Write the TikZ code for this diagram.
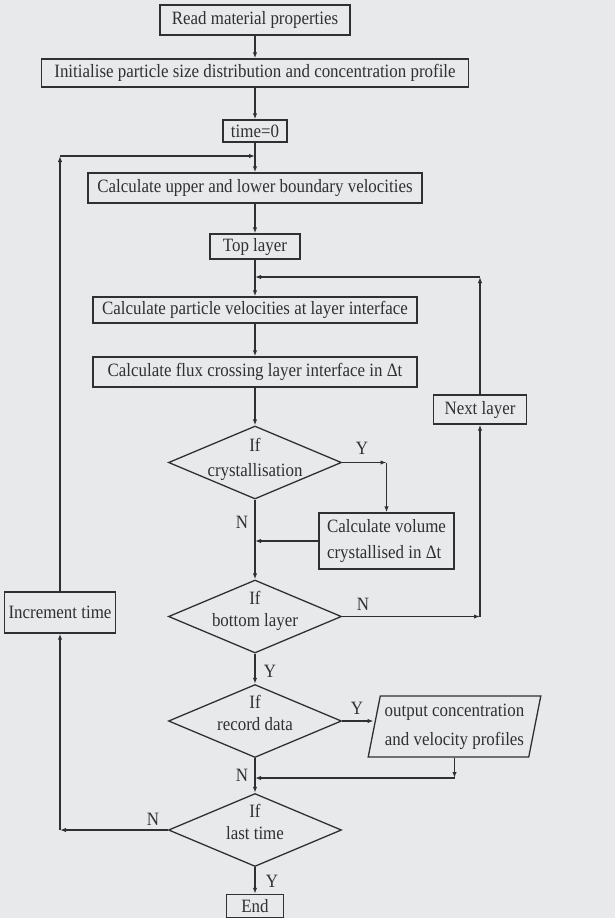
\documentclass[tikz,border=0pt]{standalone}
\usepackage{fontspec}
\setmainfont{Liberation Serif}[FakeStretch=0.9]
\usetikzlibrary{arrows.meta,shapes.geometric}
\definecolor{pagebg}{HTML}{E7E9EB}
\definecolor{inkcolor}{HTML}{303030}
\colorlet{linecolor}{inkcolor}

\begin{document}
\begin{tikzpicture}[x=0.5pt, y=-0.5pt,
        every node/.style={font=\fontsize{9.4}{11}\selectfont, text=inkcolor},
        procbox/.style={draw=linecolor, line width=0.65pt, rectangle, inner sep=0pt},
        testbox/.style={draw=linecolor, line width=0.65pt, diamond, aspect=2.4,
                inner xsep=-14pt, inner ysep=-12pt,
                minimum width=86.5pt, minimum height=36.5pt, align=center},
        iobox/.style={draw=linecolor, line width=0.65pt, trapezium, trapezium stretches=true,
                trapezium left angle=76, trapezium right angle=104, inner sep=0pt,
                minimum width=86.5pt, minimum height=30.5pt, align=center},
        flow/.style={draw=linecolor, line width=0.6pt, -{Latex[length=3pt,width=2.2pt]}},
        answer/.style={inner sep=0pt}]
        \fill[pagebg] (0,0) rectangle (615,918);
        \useasboundingbox (0,0) rectangle (615,918);

        \node (read) [procbox, minimum width=95pt, minimum height=15pt] at (255,20) {Read material properties};
        \node (init) [procbox, minimum width=213.5pt, minimum height=14pt] at (255,73)
                {Initialise particle size distribution and concentration profile};
        \node (tzero) [procbox, minimum width=32pt, minimum height=11pt] at (255,131) {time=0};
        \node (bounds) [procbox, minimum width=167pt, minimum height=15pt] at (255,188)
                {Calculate upper and lower boundary velocities};
        \node (toplay) [procbox, minimum width=45pt, minimum height=12.5pt] at (255,246.5) {Top layer};
        \node (veloc) [procbox, minimum width=162pt, minimum height=13pt] at (255,310)
                {Calculate particle velocities at layer interface};
        \node (flux) [procbox, minimum width=162pt, minimum height=15pt] at (255,372)
                {Calculate flux crossing layer interface in Δt};
        \node (nextlay) [procbox, minimum width=46.5pt, minimum height=14.5pt] at (480,409.5) {Next layer};
        \node (cryst) [testbox] at (255,462.5) {If\\[1.5pt]crystallisation\\[-6pt]\mbox{}};
        \node (volume) [procbox, minimum width=67.5pt, minimum height=28pt, align=left] at (386.5,541)
                {Calculate volume\\[2pt]crystallised in Δt};
        \node (botlay) [testbox] at (255,616.5) {If\\[0pt]bottom layer\\[-3pt]\mbox{}};
        \node (inctime) [procbox, minimum width=55.5pt, minimum height=20.5pt] at (60,612.5) {Increment time};
        \node (record) [testbox] at (255,721) {If\\[0pt]record data\\[-3pt]\mbox{}};
        \node (output) [iobox] at (454.5,726.5) {output concentration\\[3.5pt]and velocity profiles};
        \node (lasttime) [testbox] at (255,830) {If\\[0pt]last time\\[-3pt]\mbox{}};
        \node (fin) [procbox, minimum width=28.5pt, minimum height=11.5pt] at (255,906) {End};

        \coordinate (timejoin) at (255,156);
        \coordinate (layerjoin) at (255,277);
        \coordinate (outjoin) at (255,778);

        \draw[flow] (read) -- (init);
        \draw[flow] (init) -- (tzero);
        \draw[flow] (tzero) -- (bounds);
        \draw[flow] (bounds) -- (toplay);
        \draw[flow] (toplay) -- (veloc);
        \draw[flow] (veloc) -- (flux);
        \draw[flow] (flux) -- (cryst);
        \draw[flow] (cryst.east) -- (cryst.east -| volume.north);
        \draw[flow] (cryst.east -| volume.north) -- (volume.north);
        \draw[flow] (cryst) -- (botlay);
        \draw[flow] (volume.west) -- (volume.west -| cryst.south);
        \draw[flow] (botlay.east) -- (botlay.east -| nextlay.south);
        \draw[flow] (botlay.east -| nextlay.south) -- (nextlay.south);
        \draw[flow] (nextlay.north) -- (nextlay.north |- layerjoin);
        \draw[flow] (nextlay.north |- layerjoin) -- (layerjoin);
        \draw[flow] (botlay) -- (record);
        \draw[flow] (record.east) -- (record.east -| output.west);
        \draw[flow] (output.south) -- (output.south |- outjoin);
        \draw[flow] (output.south |- outjoin) -- (outjoin);
        \draw[flow] (record) -- (lasttime);
        \draw[flow] (lasttime.west) -- (lasttime.west -| inctime.south);
        \draw[flow] (lasttime.west -| inctime.south) -- (inctime.south);
        \draw[flow] (inctime.north) -- (inctime.north |- timejoin);
        \draw[flow] (inctime.north |- timejoin) -- (timejoin);
        \draw[flow] (lasttime) -- (fin);

        \node (ycryst) [answer] at (362,448) {Y};
        \node (ncryst) [answer] at (242,522) {N};
        \node (nbot) [answer] at (363,604) {N};
        \node (ybot) [answer] at (270,671) {Y};
        \node (yrec) [answer] at (357,708) {Y};
        \node (nrec) [answer] at (242,775) {N};
        \node (nlast) [answer] at (153,819) {N};
        \node (ylast) [answer] at (272,881) {Y};
\end{tikzpicture}
\end{document}
